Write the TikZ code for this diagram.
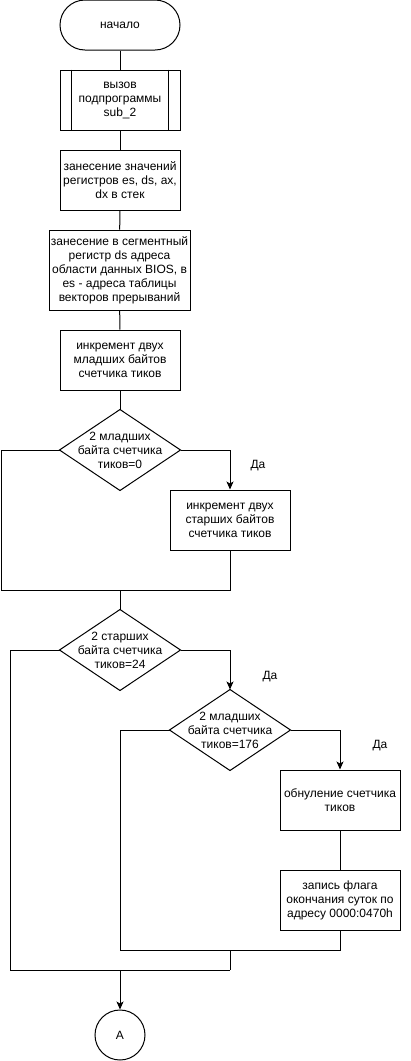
\documentclass[tikz,border=0pt]{standalone}
\usepackage{fontspec}
\setmainfont{Liberation Sans}
\usetikzlibrary{arrows.meta}

\tikzset{
  txt/.style={font=\fontsize{12}{14}\selectfont,align=center},
  blk/.style={txt,draw,minimum width=120pt,minimum height=60pt,inner sep=1pt},
  term/.style={blk,minimum height=50pt,rounded corners=25pt},
  dec/.style={txt,minimum width=120pt,minimum height=80pt,inner sep=0pt},
  conn/.style={txt,draw,circle,minimum size=50pt,inner sep=0pt},
  flow/.style={-{Stealth[length=8pt,width=7pt,inset=2pt]}}
}

\begin{document}
\begin{tikzpicture}[x=1pt,y=-1pt,line width=1pt]
\useasboundingbox (0,0) rectangle (411,1061);

\node[term] (start) at (120,25) {начало};
\node[blk] (sub) at (120,100) {вызов\\подпрограммы\\sub\_2};
\draw ([xshift=12pt]sub.north west) -- ([xshift=12pt]sub.south west)
      ([xshift=-12pt]sub.north east) -- ([xshift=-12pt]sub.south east);
\node[blk] (push) at (120,180) {занесение значений\\регистров es, ds, ax,\\dx в стек};
\node[blk,minimum width=141pt,minimum height=80pt] (seg) at (119.5,270)
  {занесение в сегментный\\регистр ds адреса\\области данных BIOS, в\\es - адреса таблицы\\векторов прерываний};
\node[blk] (inclo) at (120,360) {инкремент двух\\младших байтов\\счетчика тиков};
\node[dec] (lo0) at (120,450) {2 младших\\байта счетчика\\тиков=0};
\node[blk] (inchi) at (230,520) {инкремент двух\\старших байтов\\счетчика тиков};
\node[dec] (hi24) at (120,650) {2 старших\\байта счетчика\\тиков=24};
\node[dec] (lo176) at (230,730) {2 младших\\байта счетчика\\тиков=176};
\node[blk] (clr) at (340,800) {обнуление счетчика\\тиков};
\node[blk] (flag) at (340,900) {запись флага\\окончания суток по\\адресу 0000:0470h};
\node[conn] (conA) at (120,1035) {A};

% diamonds
\foreach \d in {lo0,hi24,lo176}
  \draw (\d.north) -- (\d.east) -- (\d.south) -- (\d.west) -- cycle;

\node[txt] (yes1) at (258,466) {Да};
\node[txt] (yes2) at (270,677) {Да};
\node[txt] (yes3) at (380,746) {Да};

\coordinate (l1) at (1,590);
\coordinate (j1) at (120,590);
\coordinate (l2) at (10,970);
\coordinate (l3) at (120,950);
\coordinate (j2) at (230,950);
\coordinate (j3) at (120,970);
\coordinate (j4) at (230,970);

\draw (start) -- (sub);
\draw (sub) -- (push);
\draw (push) -- (seg);
\draw (seg) -- (inclo);
\draw (inclo) -- (lo0);
\draw[flow] (lo0.east) -| (inchi.north);
\draw (lo0.west) -| (l1) -- (j1);
\draw (inchi.south) |- (j1);
\draw (j1) -- (hi24.north);
\draw[flow] (hi24.east) -| (lo176.north);
\draw (hi24.west) -| (l2) -- (j4);
\draw[flow] (lo176.east) -| (clr.north);
\draw (lo176.west) -| (l3) -- (j2);
\draw (clr) -- (flag);
\draw (flag.south) |- (j2);
\draw (j2) -- (j4);
\draw[flow] (j3) -- (conA);
\end{tikzpicture}
\end{document}
